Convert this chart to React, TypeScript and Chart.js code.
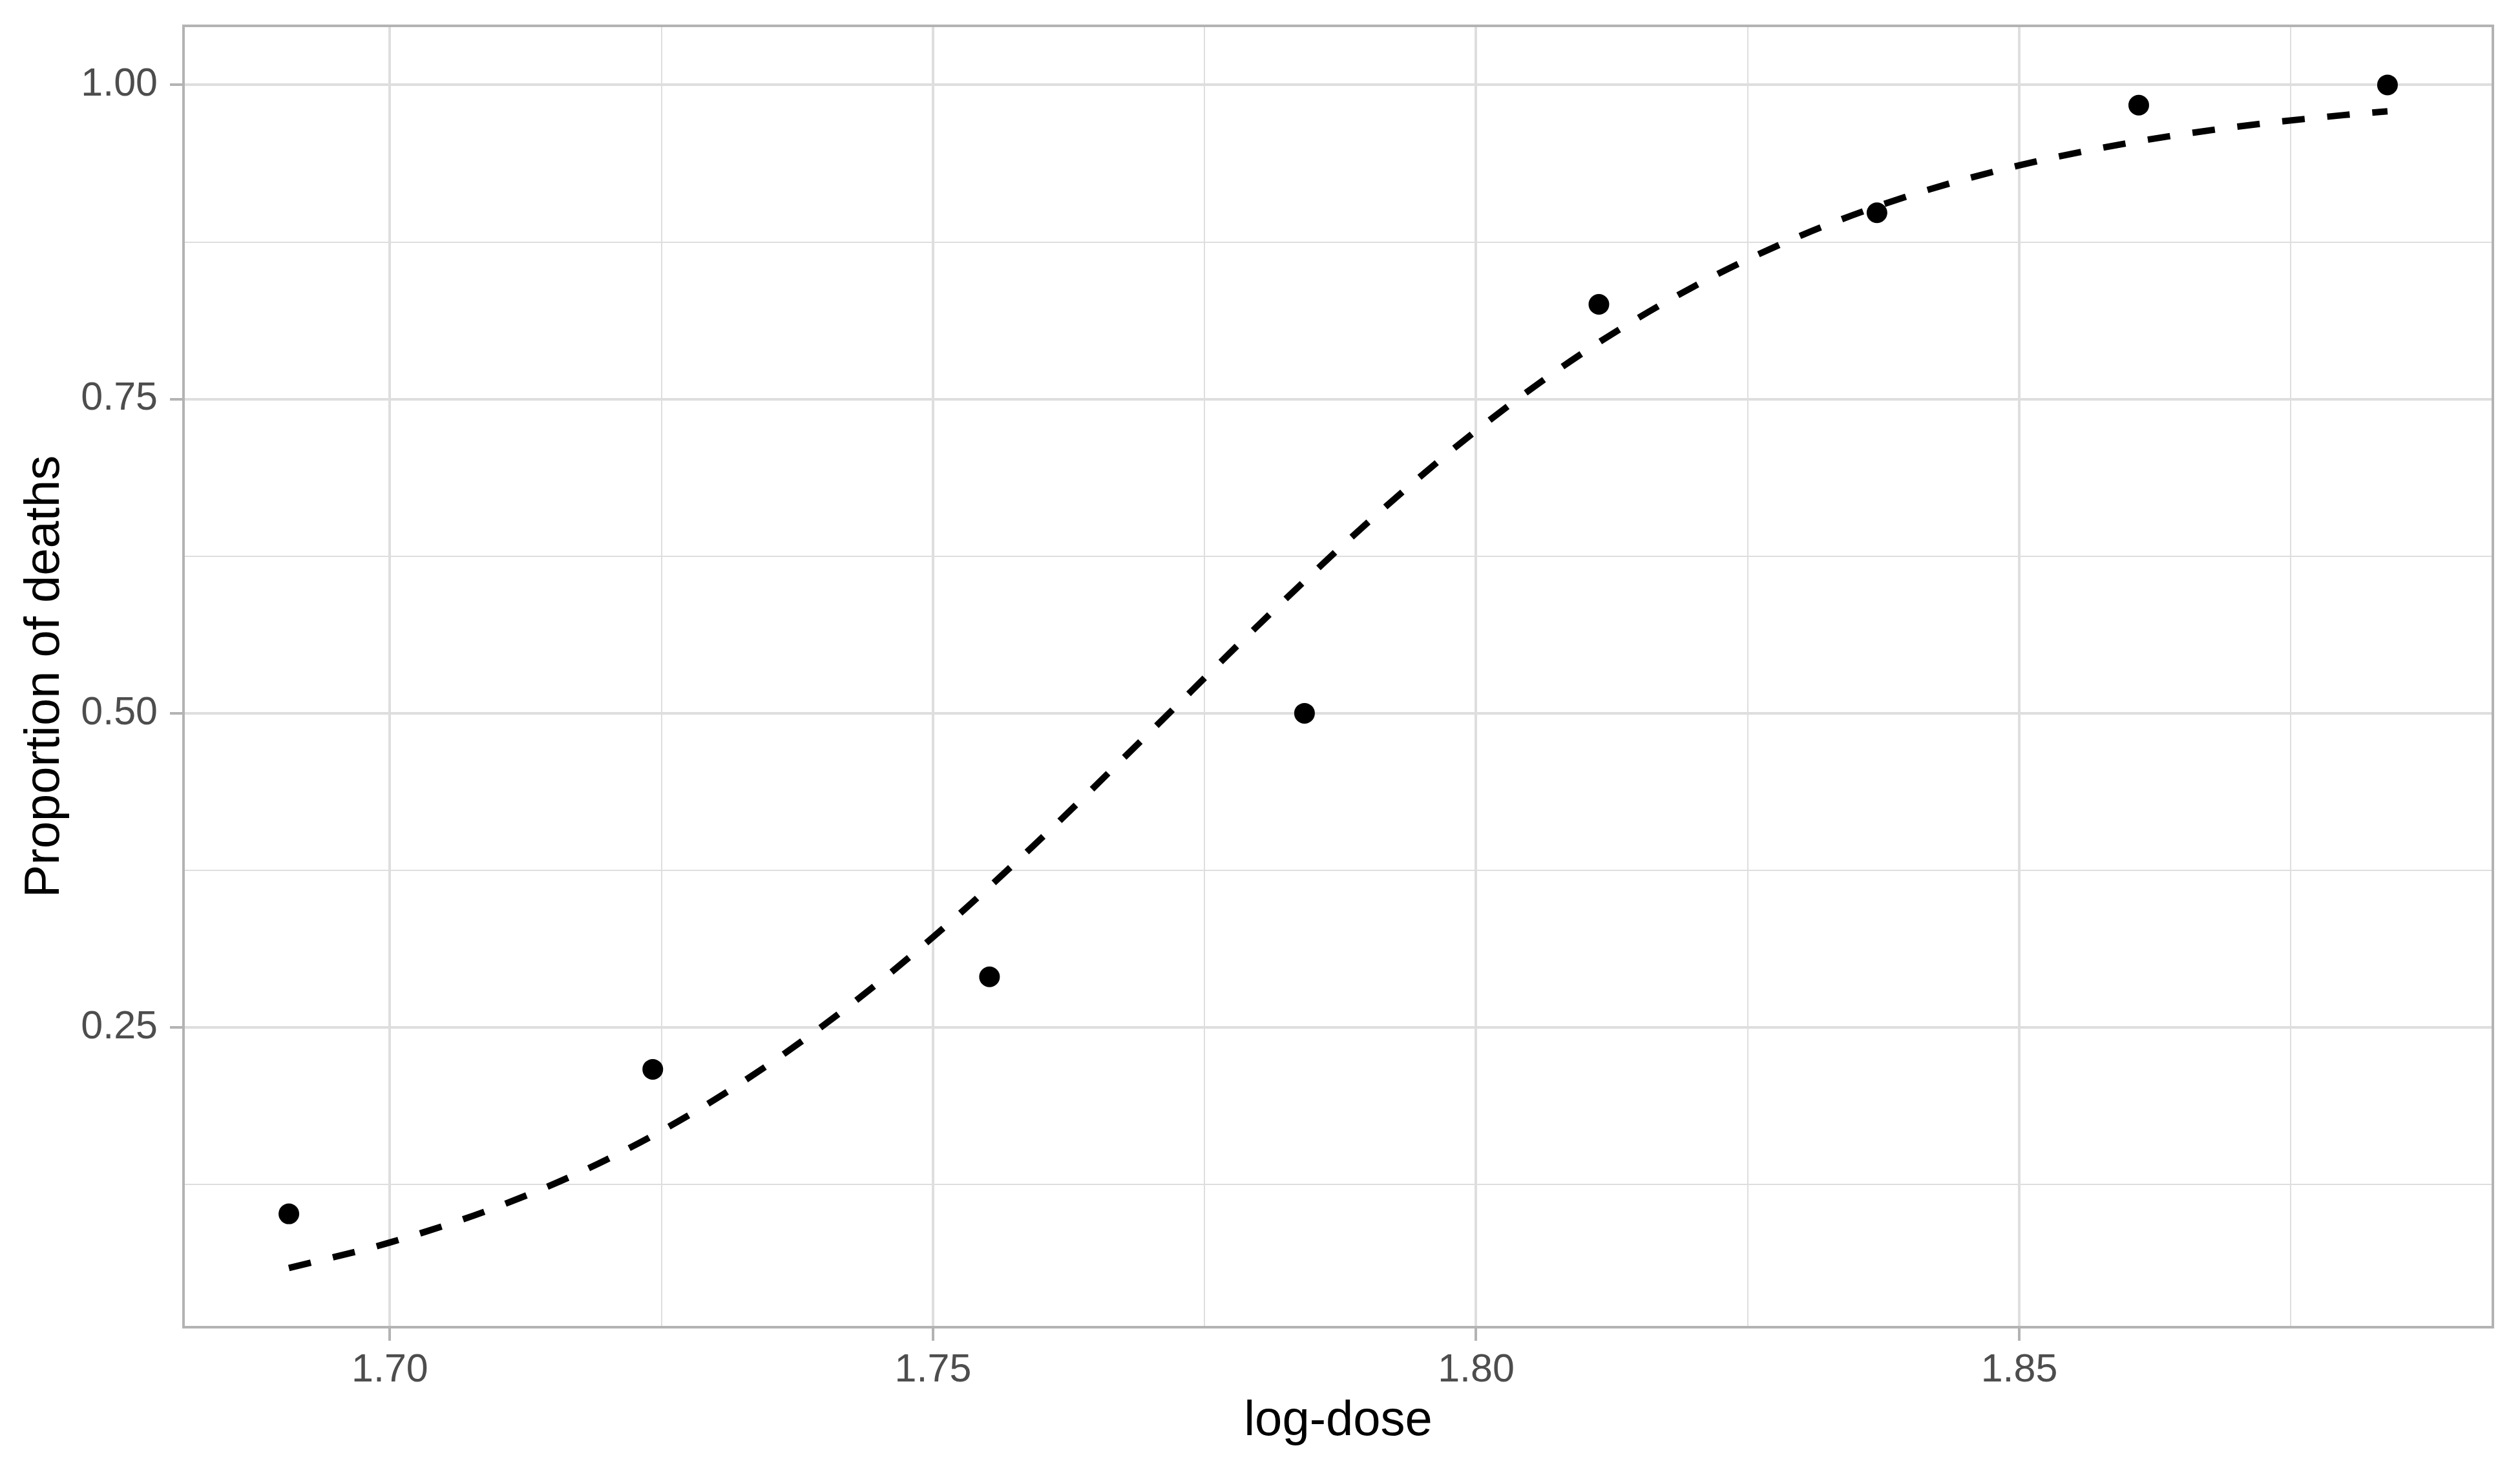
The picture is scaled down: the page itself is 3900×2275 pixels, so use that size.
import React, { useEffect, useRef } from "react";
import { Chart, registerables } from "chart.js";

Chart.register(...registerables);

const logDose = [1.6907, 1.7242, 1.7552, 1.7842, 1.8113, 1.8369, 1.861, 1.8839];
const proportion = [0.1017, 0.2167, 0.2903, 0.5, 0.8254, 0.8983, 0.9839, 1.0];

const fitX = [1.6907, 1.7, 1.71, 1.72, 1.73, 1.74, 1.75, 1.76, 1.77, 1.78, 1.79, 1.8, 1.81, 1.82, 1.83, 1.84, 1.85, 1.86, 1.87, 1.88, 1.8839];
const fitY = [0.0586, 0.0789, 0.1076, 0.1451, 0.1931, 0.2522, 0.3219, 0.4008, 0.4853, 0.5705, 0.6516, 0.7249, 0.7878, 0.8394, 0.8805, 0.9122, 0.936, 0.9537, 0.9667, 0.9761, 0.979];

const xTicks = [1.7, 1.725, 1.75, 1.775, 1.8, 1.825, 1.85, 1.875];
const yTicks = [0.125, 0.25, 0.375, 0.5, 0.625, 0.75, 0.875, 1.0];
const xMajor = [1.7, 1.75, 1.8, 1.85];
const yMajor = [0.25, 0.5, 0.75, 1.0];

const xLabel = "log-dose";
const yLabel = "Proportion of deaths";

const isMajor = (v: number, majors: number[]) => majors.some((m) => Math.abs(m - v) < 1e-6);

export default function App() {
  const ref = useRef<HTMLCanvasElement | null>(null);

  useEffect(() => {
    if (!ref.current) return;
    const borderPlugin = {
      id: "panelBorder",
      afterDatasetsDraw(chart: any) {
        const { ctx, chartArea } = chart;
        ctx.save();
        ctx.strokeStyle = "#b3b3b3";
        ctx.lineWidth = 4;
        ctx.strokeRect(chartArea.left, chartArea.top, chartArea.right - chartArea.left, chartArea.bottom - chartArea.top);
        ctx.restore();
      },
    };
    const gridColor = "#dedede";
    const chart = new Chart(ref.current, {
      type: "scatter",
      data: {
        datasets: [
          {
            label: "fit",
            data: fitX.map((x, i) => ({ x, y: fitY[i] })),
            showLine: true,
            borderColor: "#000000",
            borderWidth: 10,
            borderDash: [35, 35],
            borderCapStyle: "butt",
            pointRadius: 0,
            cubicInterpolationMode: "monotone",
            order: 2,
          } as any,
          {
            label: "observed",
            data: logDose.map((x, i) => ({ x, y: proportion[i] })),
            backgroundColor: "#000000",
            borderColor: "#000000",
            borderWidth: 0,
            pointRadius: 16,
            order: 1,
          },
        ],
      },
      options: {
        animation: false,
        responsive: false,
        devicePixelRatio: 1,
        layout: { padding: { left: 0, right: 42, top: 40, bottom: 0 } },
        plugins: { legend: { display: false }, tooltip: { enabled: false } },
        scales: {
          x: {
            type: "linear",
            min: 1.681,
            max: 1.8936,
            afterBuildTicks: (s: any) => {
              s.ticks = xTicks.map((v) => ({ value: v }));
            },
            afterFit: (s: any) => {
              s.height = 221;
              s.paddingLeft = 0;
              s.paddingRight = 0;
            },
            grid: {
              color: (c: any) => gridColor,
              lineWidth: (c: any) => (isMajor(c.tick?.value, xMajor) ? 4 : 2),
              tickColor: (c: any) => (isMajor(c.tick?.value, xMajor) ? "#b3b3b3" : "rgba(0,0,0,0)"),
              tickWidth: 4,
              tickLength: 21,
              drawTicks: true,
            },
            border: { display: false },
            ticks: {
              color: "#4d4d4d",
              padding: 10,
              font: { family: "Liberation Sans", size: 61 },
              maxRotation: 0,
              autoSkip: false,
              callback: (v: any) => (isMajor(Number(v), xMajor) ? Number(v).toFixed(2) : ""),
            },
            title: {
              display: true,
              text: xLabel,
              color: "#000000",
              font: { family: "Liberation Sans", size: 76, lineHeight: 1.2 },
              padding: { top: 0, bottom: 29 },
            },
          },
          y: {
            type: "linear",
            min: 0.0115,
            max: 1.047,
            afterBuildTicks: (s: any) => {
              s.ticks = yTicks.map((v) => ({ value: v }));
            },
            afterFit: (s: any) => {
              s.width = 284;
              s.paddingTop = 0;
              s.paddingBottom = 0;
            },
            grid: {
              color: (c: any) => gridColor,
              lineWidth: (c: any) => (isMajor(c.tick?.value, yMajor) ? 4 : 2),
              tickColor: (c: any) => (isMajor(c.tick?.value, yMajor) ? "#b3b3b3" : "rgba(0,0,0,0)"),
              tickWidth: 4,
              tickLength: 21,
              drawTicks: true,
            },
            border: { display: false },
            ticks: {
              color: "#4d4d4d",
              padding: 19,
              font: { family: "Liberation Sans", size: 61 },
              autoSkip: false,
              callback: (v: any) => (isMajor(Number(v), yMajor) ? Number(v).toFixed(2) : ""),
            },
            title: {
              display: true,
              text: yLabel,
              color: "#000000",
              font: { family: "Liberation Sans", size: 76, lineHeight: 1.2 },
              padding: { top: 24, bottom: 0 },
            },
          },
        },
      },
      plugins: [borderPlugin],
    });
    return () => chart.destroy();
  }, []);

  return (
    <div style={{ position: "absolute", left: 0, top: 0, width: 3900, height: 2275, background: "#ffffff" }}>
      <canvas ref={ref} width={3900} height={2275} style={{ width: 3900, height: 2275, display: "block" }} />
    </div>
  );
}
